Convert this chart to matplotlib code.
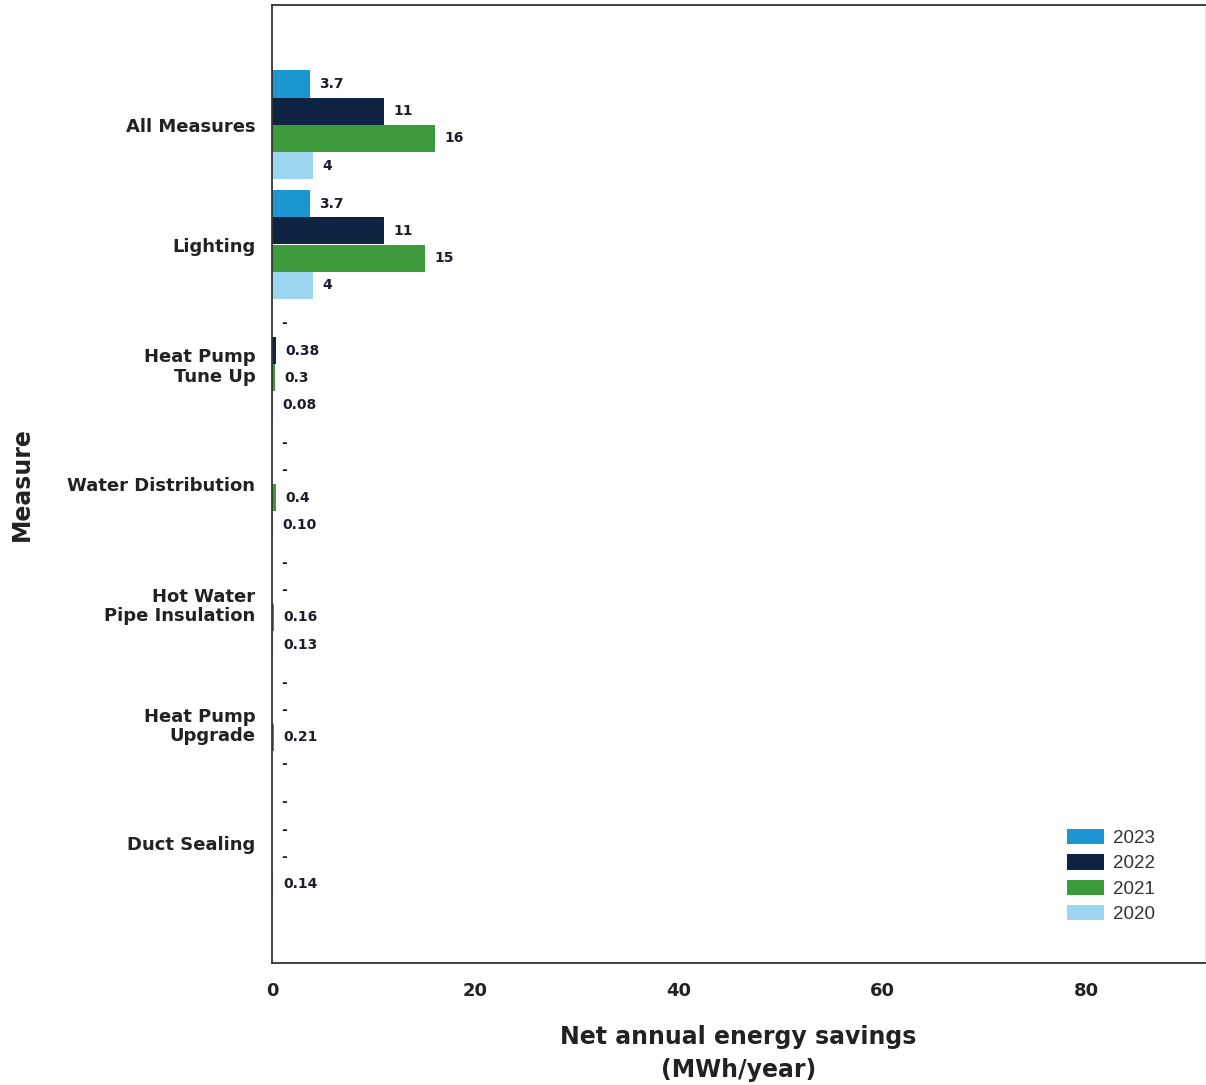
import matplotlib
matplotlib.use("Agg")
import matplotlib.pyplot as plt
import numpy as np
from matplotlib.patches import Patch

categories = ["All Measures", "Lighting", "Heat Pump\nTune Up", "Water Distribution",
              "Hot Water\nPipe Insulation", "Heat Pump\nUpgrade", "Duct Sealing"]
series_names = ["2023", "2022", "2021", "2020"]
values_2023 = [3.7, 3.7, 0, 0, 0, 0, 0]
values_2022 = [11, 11, 0.38, 0, 0, 0, 0]
values_2021 = [16, 15, 0.3, 0.4, 0.16, 0.21, 0]
values_2020 = [4, 4, 0.08, 0.10, 0.13, 0, 0.14]
labels_2023 = ["3.7", "3.7", "-", "-", "-", "-", "-"]
labels_2022 = ["11", "11", "0.38", "-", "-", "-", "-"]
labels_2021 = ["16", "15", "0.3", "0.4", "0.16", "0.21", "-"]
labels_2020 = ["4", "4", "0.08", "0.10", "0.13", "-", "0.14"]
x_ticks = [0, 20, 40, 60, 80]

colors = ["#1a96d0", "#0f2342", "#3d9a3a", "#9dd6f0"]
all_vals = [values_2023, values_2022, values_2021, values_2020]
all_labels = [labels_2023, labels_2022, labels_2021, labels_2020]

W, H = 1206, 1085
fig = plt.figure(figsize=(W / 100, H / 100), dpi=100)
ax = fig.add_axes([272 / W, 1 - 963 / H, (1205 - 272) / W, (963 - 5) / H])

bh = 0.227
y = np.arange(len(categories))
for i, (vals, labs, c) in enumerate(zip(all_vals, all_labels, colors)):
    pos = y + (i - 1.5) * bh
    ax.barh(pos, vals, height=bh, color=c, label=series_names[i])
    for p, v, l in zip(pos, vals, labs):
        ax.annotate(l, (v, p), xytext=(7, 0), textcoords="offset points",
                    va="center", ha="left", fontsize=10, fontweight="bold",
                    color="#1c1c2a")

ax.set_xlim(0, 91.7)
ax.set_ylim(7, -1)
ax.set_yticks(y)
ax.set_yticklabels(categories, fontsize=13, fontweight="bold", color="#222222",
                   linespacing=1.1)
ax.set_xticks(x_ticks)
ax.set_xticklabels([str(t) for t in x_ticks], fontsize=13, fontweight="bold",
                   color="#222222")
ax.tick_params(axis="both", length=0)
ax.tick_params(axis="x", pad=14)
ax.tick_params(axis="y", pad=12)

for s in ["left", "bottom", "top"]:
    ax.spines[s].set_color("#333333")
    ax.spines[s].set_linewidth(1.3)
ax.spines["right"].set_color("#e6e6e6")
ax.spines["right"].set_linewidth(0.8)

ax.set_xlabel("Net annual energy savings\n(MWh/year)", fontsize=17,
              fontweight="bold", color="#222222", labelpad=18, linespacing=1.45)
ax.set_ylabel("Measure", fontsize=17, fontweight="bold", color="#222222",
              labelpad=24)

handles = [Patch(facecolor=c, label=n) for c, n in zip(colors, series_names)]
leg = ax.legend(handles=handles, loc="lower right", frameon=False,
                prop={"family": "Liberation Sans", "size": 13.5},
                bbox_to_anchor=(0.965, 0.024), handlelength=2.0, handleheight=0.9,
                labelspacing=0.38, handletextpad=0.5)
for t in leg.get_texts():
    t.set_color("#333333")

fig.savefig("out.png", dpi=100)
